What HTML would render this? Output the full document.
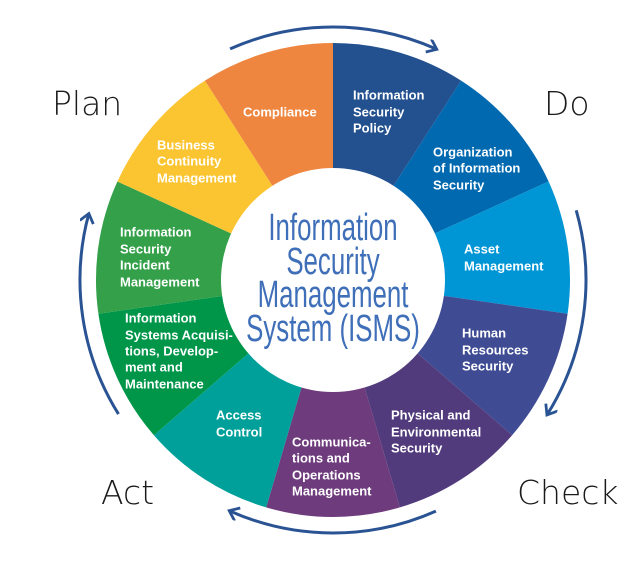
<!DOCTYPE html>
<html><head><style>
html,body{margin:0;padding:0;background:#fff;}
svg{display:block;}
.s{font-family:"Liberation Sans",sans-serif;font-weight:bold;font-size:13px;fill:#fff;dominant-baseline:central;}
.p{font-family:"DejaVu Sans","Liberation Sans",sans-serif;font-size:33px;fill:#1a1a1a;font-weight:200;}
.c{font-family:"Liberation Sans Narrow","Liberation Sans",sans-serif;font-size:38px;fill:#3f6fb8;text-anchor:middle;}
</style></head><body>
<svg width="638" height="565" viewBox="0 0 638 565" xmlns="http://www.w3.org/2000/svg">
<defs>
<marker id="ah" markerWidth="16" markerHeight="16" refX="9" refY="7" orient="auto" markerUnits="userSpaceOnUse">
<path d="M1,0 L10,7 L1,14" fill="none" stroke="#2a5394" stroke-width="2.8"/>
</marker>
</defs>
<path d="M333,280 L333,43 A237,237 0 0 1 461.1,80.6 Z" fill="#23508f"/>
<path d="M333,280 L461.1,80.6 A237,237 0 0 1 548.6,181.5 Z" fill="#0069b0"/>
<path d="M333,280 L548.6,181.5 A237,237 0 0 1 567.6,313.7 Z" fill="#0096d6"/>
<path d="M333,280 L567.6,313.7 A237,237 0 0 1 512.1,435.2 Z" fill="#3f4c94"/>
<path d="M333,280 L512.1,435.2 A237,237 0 0 1 399.8,507.4 Z" fill="#523b7c"/>
<path d="M333,280 L399.8,507.4 A237,237 0 0 1 266.2,507.4 Z" fill="#6e3b7c"/>
<path d="M333,280 L266.2,507.4 A237,237 0 0 1 153.9,435.2 Z" fill="#00a09a"/>
<path d="M333,280 L153.9,435.2 A237,237 0 0 1 98.4,313.7 Z" fill="#00964a"/>
<path d="M333,280 L98.4,313.7 A237,237 0 0 1 117.4,181.5 Z" fill="#34a04a"/>
<path d="M333,280 L117.4,181.5 A237,237 0 0 1 204.9,80.6 Z" fill="#fbc532"/>
<path d="M333,280 L204.9,80.6 A237,237 0 0 1 333,43 Z" fill="#ee8640"/>
<circle cx="333" cy="280" r="112" fill="#fff"/>
<g fill="none" stroke="#2a5394" stroke-width="3" marker-end="url(#ah)">
<path d="M230.1,48.9 A253,253 0 0 1 435.9,48.9"/>
<path d="M576.2,210.3 A253,253 0 0 1 547.5,414.1"/>
<path d="M435.9,511.1 A253,253 0 0 1 230.1,511.1"/>
<path d="M118.5,414.1 A253,253 0 0 1 88.6,214.5"/>
</g>
<text class="p" x="52" y="115">Plan</text>
<text class="p" x="544" y="115">Do</text>
<text class="p" x="101" y="504">Act</text>
<text class="p" x="517" y="504">Check</text>
<g class="c" transform="translate(333 0) scale(0.68 1) translate(-333 0)">
<text x="333" y="240">Information</text>
<text x="333" y="274">Security</text>
<text x="333" y="307">Management</text>
<text x="333" y="341">System (ISMS)</text>
</g>
<g class="s">
<text x="243" y="112">Compliance</text>
<text x="353" y="95">Information</text><text x="353" y="112">Security</text><text x="353" y="128">Policy</text>
<text x="433" y="152">Organization</text><text x="433" y="168">of Information</text><text x="433" y="185">Security</text>
<text x="464" y="249">Asset</text><text x="464" y="266">Management</text>
<text x="462" y="333">Human</text><text x="462" y="350">Resources</text><text x="462" y="366">Security</text>
<text x="391" y="415">Physical and</text><text x="391" y="432">Environmental</text><text x="391" y="448">Security</text>
<text x="292" y="442">Communica-</text><text x="292" y="458">tions and</text><text x="292" y="475">Operations</text><text x="292" y="491">Management</text>
<text x="216" y="415">Access</text><text x="216" y="432">Control</text>
<text x="125" y="318">Information</text><text x="125" y="335">Systems Acquisi-</text><text x="125" y="351">tions, Develop-</text><text x="125" y="367">ment and</text><text x="125" y="384">Maintenance</text>
<text x="120" y="232">Information</text><text x="120" y="249">Security</text><text x="120" y="265">Incident</text><text x="120" y="282">Management</text>
<text x="157" y="145">Business</text><text x="157" y="161">Continuity</text><text x="157" y="178">Management</text>
</g>
</svg>
</body></html>
